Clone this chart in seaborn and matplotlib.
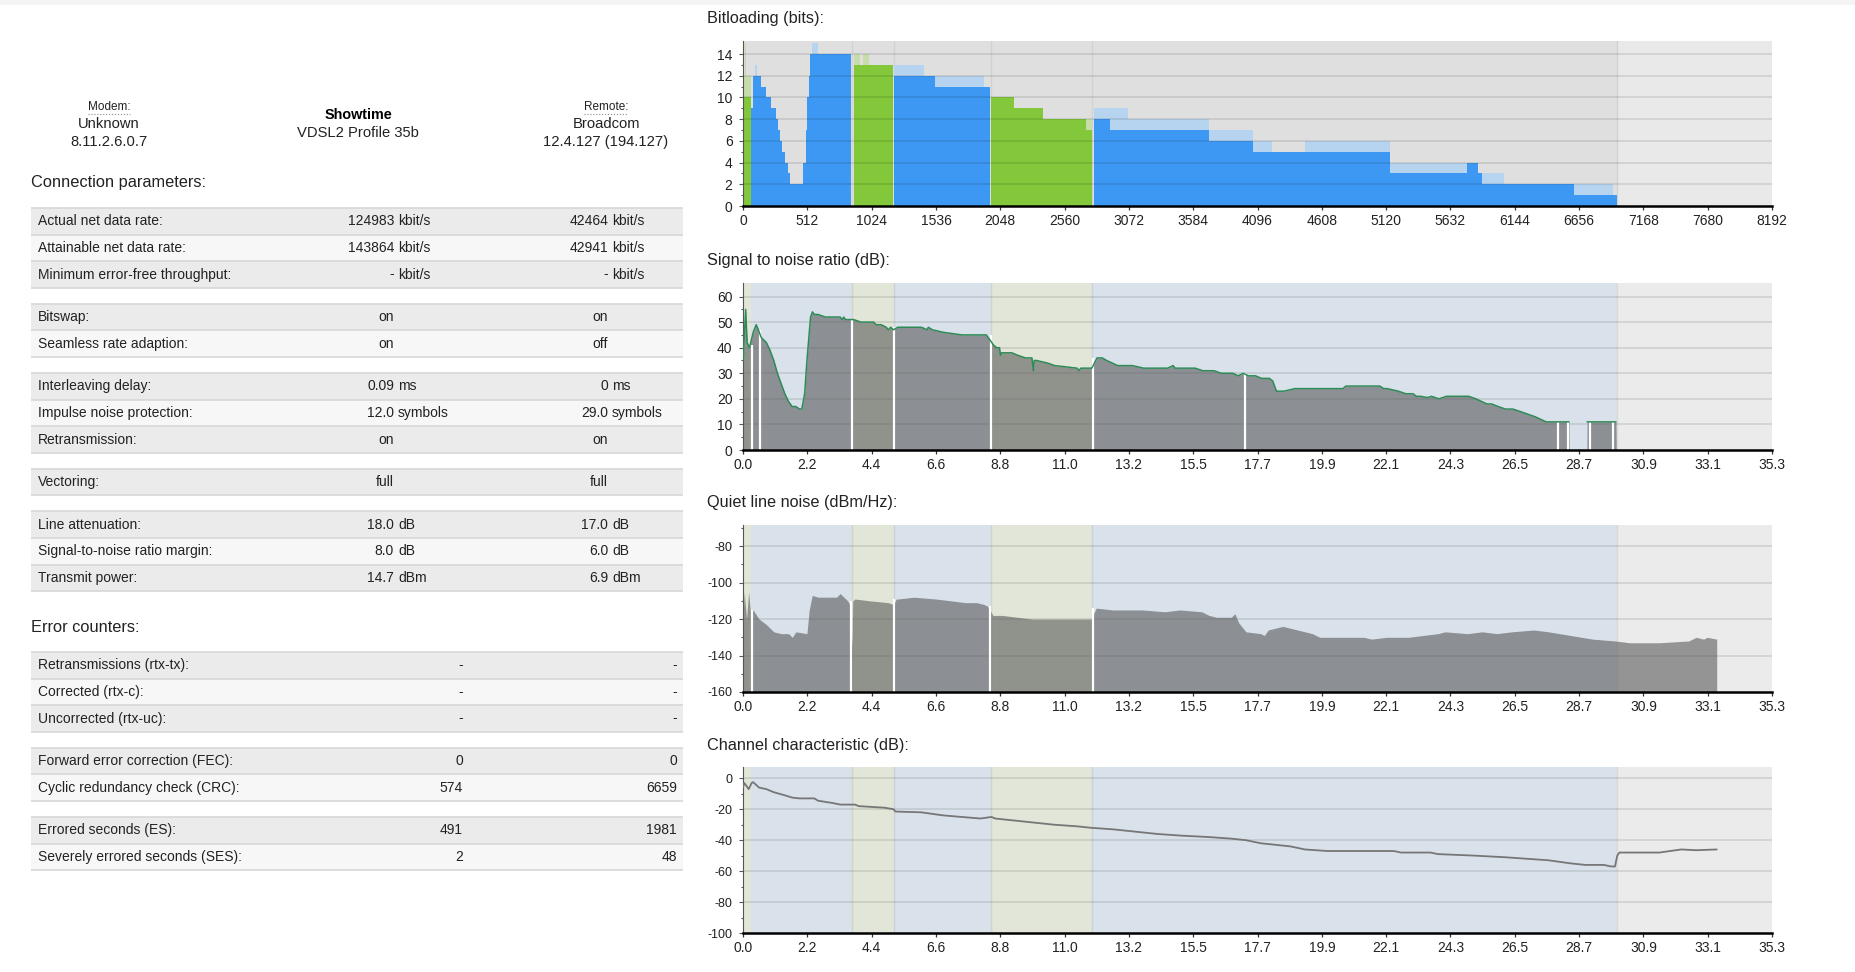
"""
DSL line statistics page: parameter table plus bitloading / SNR / QLN / Hlog charts
"""

import numpy as np
import matplotlib
matplotlib.use("Agg")
import matplotlib.pyplot as plt
from matplotlib.patches import Rectangle
import seaborn as sns

# ---------------- header / table data ----------------
modem_label = "Modem:"
modem_lines = ["Unknown", "8.11.2.6.0.7"]
state_title = "Showtime"
state_profile = "VDSL2 Profile 35b"
remote_label = "Remote:"
remote_lines = ["Broadcom", "12.4.127 (194.127)"]

conn_labels = ["Actual net data rate:", "Attainable net data rate:", "Minimum error-free throughput:",
               "Bitswap:", "Seamless rate adaption:",
               "Interleaving delay:", "Impulse noise protection:", "Retransmission:",
               "Vectoring:",
               "Line attenuation:", "Signal-to-noise ratio margin:", "Transmit power:"]
conn_local = ["124983 kbit/s", "143864 kbit/s", "- kbit/s", "on", "on",
              "0.09 ms", "12.0 symbols", "on", "full", "18.0 dB", "8.0 dB", "14.7 dBm"]
conn_remote = ["42464 kbit/s", "42941 kbit/s", "- kbit/s", "on", "off",
               "0 ms", "29.0 symbols", "on", "full", "17.0 dB", "6.0 dB", "6.9 dBm"]
conn_groups = [3, 2, 3, 1, 3]

err_labels = ["Retransmissions (rtx-tx):", "Corrected (rtx-c):", "Uncorrected (rtx-uc):",
              "Forward error correction (FEC):", "Cyclic redundancy check (CRC):",
              "Errored seconds (ES):", "Severely errored seconds (SES):"]
err_local = ["-", "-", "-", "0", "574", "491", "2"]
err_remote = ["-", "-", "-", "0", "6659", "1981", "48"]
err_groups = [3, 2, 2]

# ---------------- band plan (tone index) ----------------
band_start = [0, 60, 870, 1205, 1971, 2782]
band_end = [60, 870, 1205, 1971, 2782, 6956]
band_dir = ["up", "down", "up", "down", "up", "down"]

tone_ticks = list(range(0, 8193, 512))
mhz_labels = ["0.0", "2.2", "4.4", "6.6", "8.8", "11.0", "13.2", "15.5", "17.7",
              "19.9", "22.1", "24.3", "26.5", "28.7", "30.9", "33.1", "35.3"]

# ---------------- bitloading (runs of tones) ----------------
bl_start = [2, 60, 77, 143, 180, 223, 263, 281, 294, 308, 334, 361, 374, 480, 502, 512, 522, 533,
            880, 1206, 1525, 1978, 2155, 2390, 2730, 2795, 2918, 3711, 4063, 5149, 5766, 5854, 5884, 6618]
bl_end = [60, 77, 143, 180, 223, 263, 281, 294, 308, 334, 361, 374, 480, 502, 512, 522, 533, 858,
          1196, 1525, 1968, 2155, 2390, 2730, 2780, 2918, 3711, 4063, 5149, 5766, 5854, 5884, 6618, 6956]
bl_bits = [10, 9, 12, 11, 10, 9, 8, 7, 6, 5, 4, 3, 2, 4, 7, 10, 12, 14,
           13, 12, 11, 10, 9, 8, 7, 8, 7, 6, 5, 3, 4, 3, 2, 1]

# upper fringe where single tones carry one bit more
pk_start = [2, 14, 95, 547, 880, 955, 1206, 1525, 2730, 2795, 3064, 3711, 4063, 4475, 5149, 5884, 6618]
pk_end = [60, 22, 115, 600, 930, 1005, 1440, 1920, 2780, 3064, 3711, 4063, 4210, 5149, 5766, 6060, 6930]
pk_bits = [12, 15, 13, 15, 14, 14, 13, 12, 8, 9, 8, 7, 6, 6, 4, 3, 2]

# ---------------- SNR (dB) ----------------
snr_tone = [0, 3, 21, 33, 51, 57, 81, 105, 122, 145, 186, 215, 245, 274, 303, 333, 362, 391, 421, 450,
            468, 491, 509, 538, 553, 568, 597, 656, 773, 790, 802, 815, 849, 880, 940, 980, 1040, 1060, 1100, 1140,
            1159, 1175, 1200, 1232, 1420, 1467, 1475, 1508, 1596, 1743, 1937, 1995, 2020, 2042, 2050, 2060, 2083, 2140, 2189, 2248,
            2300, 2312, 2318, 2336, 2424, 2483, 2660, 2675, 2689, 2777, 2819, 2860, 2895, 2940, 2983, 3100, 3189, 3380, 3424, 3440,
            3483, 3600, 3660, 3750, 3807, 3900, 3942, 3983, 4023, 4080, 4129, 4190, 4217, 4247, 4306, 4394, 4776, 4800, 4835, 5070,
            5100, 5129, 5217, 5276, 5335, 5360, 5394, 5450, 5480, 5541, 5600, 5700, 5776, 5835, 5880, 5923, 5960, 6012, 6070, 6129,
            6190, 6247, 6306, 6350, 6394, 6576, 6578, 6718, 6720, 6950, 6952]
snr_db = [35, 37, 55, 42, 40, 41, 46, 49, 47, 44, 42, 39, 35, 30, 26, 22, 19, 17, 17, 16,
          16, 22, 35, 52, 54, 53, 53, 52, 52, 51, 52, 51, 51, 51, 50, 50, 50, 49, 49, 48,
          47, 48, 47, 48, 48, 47, 48, 47, 46, 45, 45, 41, 40, 40, 37, 38, 38, 38, 37, 36,
          36, 31, 35, 35, 34, 33, 32, 31, 32, 32, 36, 36, 35, 34, 33, 33, 32, 32, 33, 32,
          32, 32, 31, 31, 30, 30, 29, 30, 29, 29, 28, 28, 27, 23, 23, 24, 24, 25, 25, 25,
          24, 24, 23, 22, 22, 21, 21, 20.5, 21, 20, 21, 21, 21, 20, 19, 18, 18, 17, 16, 16,
          15, 14, 13, 12, 11, 11, 0, 0, 11, 11, 0]
snr_gap_tone = [69, 134, 866, 1205, 1972, 2790, 4000, 6488, 6568, 6743, 6926]
snr_gap_top = [41, 47, 51, 48, 45, 36, 30, 11, 11, 11, 11]

# ---------------- QLN (dBm/Hz) ----------------
qln_tone = [0, 10, 28, 45, 57, 81, 128, 186, 245, 304, 363, 392, 421, 509, 527, 551, 598, 744, 774, 803,
            833, 850, 868, 874, 891, 1009, 1156, 1197, 1220, 1232, 1361, 1537, 1655, 1772, 1860, 1919, 1949, 1990, 2066, 2183,
            2301, 2771, 2812, 2947, 3182, 3358, 3476, 3652, 3711, 3770, 3887, 3916, 3946, 4004, 4122, 4151, 4181, 4298, 4416, 4474,
            4533, 4592, 4944, 5003, 5121, 5297, 5414, 5532, 5590, 5767, 5884, 6002, 6119, 6296, 6413, 6589, 6677, 6765, 6942, 7059,
            7294, 7529, 7588, 7647, 7676, 7752]
qln_db = [-120, -105, -120, -105, -115, -115, -120, -123, -127, -128, -128, -130, -127, -128, -115, -107, -108, -108, -106, -108,
          -110, -112, -135, -110, -109, -110, -111, -112, -109, -109, -108, -109, -110, -111, -111, -112, -113, -118, -118, -119,
          -120, -120, -114, -115, -115, -116, -115, -116, -118, -119, -119, -117, -122, -127, -128, -129, -126, -124, -126, -127,
          -128, -130, -130, -131, -130, -130, -129, -128, -127, -128, -127, -128, -127, -126, -127, -129, -130, -131, -132, -133,
          -133, -132, -130, -131, -130, -131]
qln_gap_tone = [69, 862, 1205, 1968, 2789]
qln_gap_top = [-115, -110, -109, -113, -114]

# ---------------- Hlog (dB) ----------------
hlog_tone = [0, 10, 28, 45, 69, 81, 128, 186, 245, 333, 392, 451, 568, 598, 715, 774, 891, 921, 1126, 1197,
             1214, 1420, 1508, 1596, 1743, 1890, 1978, 2007, 2125, 2242, 2360, 2477, 2653, 2771, 2947, 3065, 3300, 3476, 3711, 3887,
             4004, 4122, 4240, 4357, 4474, 4651, 5180, 5239, 5473, 5532, 5826, 6061, 6237, 6413, 6589, 6707, 6853, 6912, 6942, 6960,
             6977, 7059, 7294, 7382, 7470, 7588, 7752]
hlog_db = [-6, -3, -5, -7, -3, -2.5, -6, -7, -9, -11, -12.5, -13, -13, -14.5, -16, -17, -17, -18, -19, -20,
           -21.5, -22, -23, -24, -25, -26, -25, -26, -27, -28, -29, -30, -31, -32, -33, -34, -36, -37, -38, -39,
           -40, -42, -43, -44, -46, -47, -47, -48, -48, -49, -50, -51, -52, -53, -55, -56, -56, -57, -57, -50,
           -48, -48, -48, -47, -46, -46.5, -46]

# ---------------- style ----------------
W, H = 1855, 972
BLUE, BLUE_LT = "#3d98f3", "#b6d3ef"
GREEN, GREEN_LT = "#82c83a", "#c6dcaa"
DS_BG, US_BG, OFF_BG = "#d9e2eb", "#e1e6d8", "#ebebeb"
FILL = "#5a5a5a"
TXT = "#222222"

sns.set_theme(style="white")
plt.rcParams["font.family"] = ["Liberation Sans", "DejaVu Sans"]
plt.rcParams["axes.unicode_minus"] = False

fig = plt.figure(figsize=(W / 100, H / 100), dpi=100)
fig.patch.set_facecolor("white")

# ---------------- left: table ----------------
tab = fig.add_axes([0, 0, 1, 1])
tab.set_xlim(0, W)
tab.set_ylim(H, 0)
tab.axis("off")
tab.add_patch(Rectangle((0, 0), W, 5, facecolor="#f4f4f4", edgecolor="none"))

TAB_L, TAB_R = 31, 683
ROW_H, GAP = 26.6, 16
SHADE, LIGHT, LINE = "#ebebeb", "#f7f7f7", "#d5d5d5"

tab.text(109, 107, modem_label, ha="center", va="center", fontsize=8.5, color=TXT)
tab.plot([88, 130], [114, 114], ls=":", color="#888888", lw=0.8)
for i, s in enumerate(modem_lines):
    tab.text(109, 124 + 18 * i, s, ha="center", va="center", fontsize=10.6, color=TXT)
tab.text(358, 115, state_title, ha="center", va="center", fontsize=10.4, fontweight="bold", color="black")
tab.text(358, 133, state_profile, ha="center", va="center", fontsize=10.6, color=TXT)
tab.text(606, 107, remote_label, ha="center", va="center", fontsize=8.5, color=TXT)
tab.plot([584, 628], [114, 114], ls=":", color="#888888", lw=0.8)
for i, s in enumerate(remote_lines):
    tab.text(606, 124 + 18 * i, s, ha="center", va="center", fontsize=10.6, color=TXT)


def draw_rows(ax, top, labels, local, remote, groups, anchors, split):
    y = top
    idx = 0
    for n in groups:
        ax.hlines(y, TAB_L, TAB_R, color=LINE, lw=1.1, zorder=3)
        for k in range(n):
            face = SHADE if k % 2 == 0 else LIGHT
            ax.add_patch(Rectangle((TAB_L, y), TAB_R - TAB_L, ROW_H,
                                   facecolor=face, edgecolor="none", zorder=1))
            yc = y + ROW_H / 2
            ax.text(38, yc, labels[idx], ha="left", va="center", fontsize=10, color=TXT, zorder=4)
            for val, xa in zip((local[idx], remote[idx]), anchors):
                if split and " " in val:
                    num, unit = val.split(" ", 1)
                    ax.text(xa, yc, num, ha="right", va="center", fontsize=10, color=TXT, zorder=4)
                    ax.text(xa + 4, yc, unit, ha="left", va="center", fontsize=10, color=TXT, zorder=4)
                else:
                    ax.text(xa, yc, val, ha="right", va="center", fontsize=10, color=TXT, zorder=4)
            y += ROW_H
            ax.hlines(y, TAB_L, TAB_R, color=LINE, lw=1.1, zorder=3)
            idx += 1
        y += GAP


tab.text(31, 183, "Connection parameters:", ha="left", va="center", fontsize=11.8, color=TXT)
draw_rows(tab, 208, conn_labels, conn_local, conn_remote, conn_groups, (394, 608), True)
tab.text(31, 627, "Error counters:", ha="left", va="center", fontsize=11.8, color=TXT)
draw_rows(tab, 652, err_labels, err_local, err_remote, err_groups, (463, 677), False)


# ---------------- right: charts ----------------
def px_axes(l, t, r, b):
    return fig.add_axes([l / W, 1 - b / H, (r - l) / W, (b - t) / H])


def style_axes(ax, ylim, yticks, yminor, xlabels):
    ax.set_xlim(0, 8192)
    ax.set_ylim(*ylim)
    ax.set_xticks(tone_ticks)
    ax.set_xticklabels(xlabels)
    ax.set_yticks(yticks)
    ax.set_yticks(yminor, minor=True)
    ax.tick_params(axis="x", which="major", bottom=True, length=3, width=0.9,
                   pad=3, labelsize=10, color="#333333", labelcolor=TXT)
    ax.tick_params(axis="y", which="major", left=True, length=3, width=0.8,
                   pad=4.5, labelsize=10, color="#555555", labelcolor=TXT)
    ax.tick_params(axis="y", which="minor", left=True, length=1.6, width=0.8, color="#555555")
    for s in ("top", "right"):
        ax.spines[s].set_visible(False)
    ax.spines["bottom"].set_color("black")
    ax.spines["bottom"].set_linewidth(1.8)
    ax.spines["left"].set_color("#555555")
    ax.spines["left"].set_linewidth(0.8)
    ax.grid(False)


def band_background(ax):
    ax.set_facecolor(OFF_BG)
    for s, e, d in zip(band_start, band_end, band_dir):
        ax.axvspan(s, e, color=US_BG if d == "up" else DS_BG, lw=0, zorder=0)
    for x in band_end[1:]:
        ax.axvline(x, color="black", alpha=0.07, lw=1, zorder=0.5)


def hgrid(ax, yticks, z):
    for y in yticks:
        ax.axhline(y, color="black", alpha=0.1, lw=1.3, zorder=z)


def band_colour(tone, light=False):
    for s, e, d in zip(band_start, band_end, band_dir):
        if s <= tone < e:
            if d == "up":
                return GREEN_LT if light else GREEN
    return BLUE_LT if light else BLUE


# Bitloading
ax1 = px_axes(743, 41, 1772, 206)
ax1.set_facecolor("#e9e9e9")
ax1.axvspan(0, 6956, color="#dfdfdf", lw=0, zorder=0)
for x in band_start[2:] + [6956]:
    ax1.axvline(x, color="#d2d2d2", lw=1, zorder=0.5)
pk_w = np.array(pk_end) - np.array(pk_start)
ax1.bar(pk_start, pk_bits, width=pk_w, align="edge", lw=0,
        color=[band_colour(t, True) for t in pk_start], zorder=1.5)
bl_w = np.array(bl_end) - np.array(bl_start)
ax1.bar(bl_start, bl_bits, width=bl_w, align="edge", lw=0,
        color=[band_colour(t) for t in bl_start], zorder=2)
bit_yticks = list(range(0, 15, 2))
hgrid(ax1, bit_yticks[1:], 3)
style_axes(ax1, (0, 15.2), bit_yticks, list(range(1, 15, 2)), [str(t) for t in tone_ticks])

# SNR
ax2 = px_axes(743, 283, 1772, 450)
band_background(ax2)
snr_yticks = list(range(0, 61, 10))
hgrid(ax2, snr_yticks[1:], 0.8)
ax2.fill_between(snr_tone, 0, snr_db, color=FILL, alpha=0.6, lw=0, zorder=2)
ax2.vlines(snr_gap_tone, 0, snr_gap_top, colors="white", lw=1.6, zorder=2.5)
snr_line = np.where(np.array(snr_db) > 0, snr_db, np.nan)
ax2.plot(snr_tone, snr_line, color="#2e8b57", lw=1.1, zorder=3)
style_axes(ax2, (0, 65.3), snr_yticks, list(range(5, 65, 10)), mhz_labels)

# QLN
ax3 = px_axes(743, 525, 1772, 692)
band_background(ax3)
qln_yticks = list(range(-160, -79, 20))
hgrid(ax3, qln_yticks[1:], 0.8)
ax3.fill_between(qln_tone, -160, qln_db, color=FILL, alpha=0.6, lw=0, zorder=2)
ax3.vlines(qln_gap_tone, -160, qln_gap_top, colors="white", lw=1.6, zorder=2.5)
style_axes(ax3, (-160, -68.4), qln_yticks, list(range(-150, -69, 20)), mhz_labels)
ax3.tick_params(axis="y", labelsize=9)

# Hlog
ax4 = px_axes(743, 767, 1772, 933)
band_background(ax4)
hlog_yticks = list(range(-100, 1, 20))
hgrid(ax4, hlog_yticks[1:], 0.8)
sns.lineplot(x=hlog_tone, y=hlog_db, color="#767676", lw=1.3, estimator=None, sort=False, ax=ax4, zorder=3)
style_axes(ax4, (-100, 7.3), hlog_yticks, list(range(-90, 1, 20)), mhz_labels)
ax4.tick_params(axis="y", labelsize=9)
ax4.set_xlabel("")
ax4.set_ylabel("")

titles = [("Bitloading (bits):", 18), ("Signal to noise ratio (dB):", 260),
          ("Quiet line noise (dBm/Hz):", 502), ("Channel characteristic (dB):", 745)]
for text, ypix in titles:
    fig.text(707 / W, 1 - ypix / H, text, ha="left", va="center", fontsize=11.7, color=TXT)

fig.savefig("out.png", dpi=100)
